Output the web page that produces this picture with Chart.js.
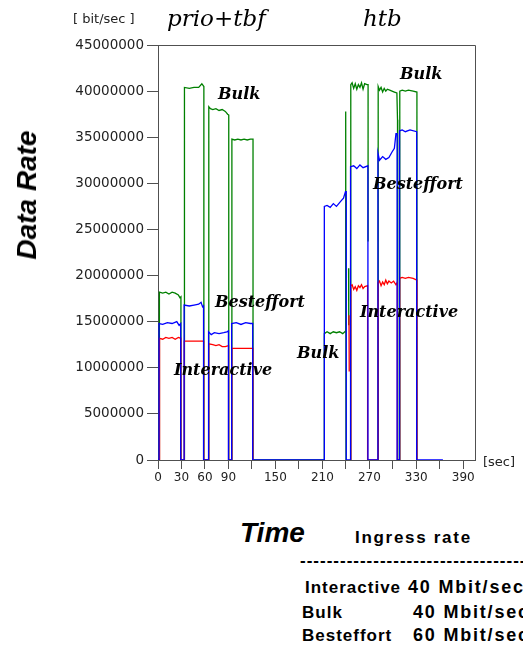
<!DOCTYPE html>
<html>
<head>
<meta charset="utf-8">
<title>prio+tbf vs htb</title>
<script src="https://cdn.jsdelivr.net/npm/chart.js@4.4.1/dist/chart.umd.min.js"></script>
<style>
    body { margin: 0; background: #fff; overflow: hidden; }
    #wrap { position: relative; width: 523px; height: 651px; overflow: hidden; }
    #rateChart { position: absolute; left: 0; top: 0; }
    .lbl { position: absolute; white-space: nowrap; line-height: 1; color: #000; }
    .note { font-family: "DejaVu Serif", serif; font-style: italic; font-weight: bold; font-size: 16px; }
    .head { font-family: "DejaVu Serif", serif; font-style: italic; font-size: 23px; }
    .unit { font-family: "DejaVu Sans", sans-serif; font-size: 13px; color: #222; }
    .big { font-family: "Liberation Sans", Arial, sans-serif; font-style: italic; font-weight: bold; font-size: 28px; }
    .info { font-family: "Liberation Sans", Arial, sans-serif; font-weight: bold; font-size: 17px; letter-spacing: 1px; }
    .wide { letter-spacing: 1.7px; }
    .rate { font-family: "Liberation Sans", Arial, sans-serif; font-weight: bold; font-size: 18px; letter-spacing: 1.8px; }
</style>
</head>
<body>
<div id="wrap">
    <canvas id="rateChart" width="523" height="500"></canvas>
</div>
<script>
// Time axis (seconds)
const timeTicks = [0, 30, 60, 90, 120, 150, 180, 210, 240, 270, 300, 330, 360, 390];
const timeLabels = [0, 30, 60, 90, 150, 210, 270, 330, 390];

// Besteffort (blue), rates in Mbit/sec
const besteffortTime = [0, 1.3, 1.3, 6, 12, 18, 24, 27, 29, 29,
    33.4, 33.4, 40, 46, 52, 55, 57, 58.2, 58.2,
    64.6, 64.6, 68, 72, 78, 84, 88, 90, 90,
    94.1, 94.1, 100, 106, 112, 118, 121, 121,
    212.5, 212.5, 216, 220, 224, 228, 232, 235, 237, 239.5, 240.5, 240.5,
    246, 246, 250, 254, 258, 262, 268.2, 268.2,
    281, 281, 283, 287, 291, 295, 299, 302, 304, 305.5, 305.5,
    308.6, 308.6, 312, 316, 322, 330.5, 330.5, 364];
const besteffortRate = [0, 0, 14.8, 14.7, 14.9, 14.8, 15.0, 14.6, 14.8, 0,
    0, 16.8, 16.7, 16.8, 16.9, 17.1, 16.6, 16.7, 0,
    0, 13.9, 13.6, 13.8, 13.7, 13.8, 13.9, 14.0, 0,
    0, 14.8, 14.9, 14.7, 14.9, 14.8, 14.8, 0,
    0, 27.5, 27.6, 27.4, 27.8, 27.5, 27.9, 28.2, 28.4, 29.1, 29.1, 0,
    0, 31.8, 31.9, 31.6, 32.0, 31.7, 31.9, 0,
    0, 33.3, 32.5, 32.9, 32.6, 32.8, 33.4, 33.8, 35.4, 35.4, 0,
    0, 35.7, 35.8, 35.6, 35.8, 35.6, 0, 0];

// Interactive (red)
const interactiveTime = [0, 2, 2, 6, 10, 14, 18, 22, 26, 29.2, 29.2,
    33.6, 33.6, 45, 58.4, 58.4,
    64.8, 64.8, 70, 74, 78, 82, 86, 90.2, 90.2,
    94.3, 94.3, 121.2, 121.2,
    244, 244, 244.3, 244.4,
    246.3, 246.3, 248, 250, 252, 254, 256, 258, 260, 262, 264, 267.8, 267.8,
    281.2, 281.2, 283, 285, 287, 289, 291, 293, 295, 298, 301, 304, 305.8, 305.8,
    308.8, 308.8, 312, 316, 320, 326, 330.8, 330.8];
const interactiveRate = [0, 0, 13.2, 13.1, 13.3, 13.2, 13.3, 13.1, 13.3, 13.2, 0,
    0, 12.9, 12.9, 12.9, 0,
    0, 12.6, 12.5, 12.4, 12.5, 12.3, 12.3, 12.4, 0,
    0, 12.1, 12.1, 0,
    null, 15.7, 9.6, null,
    0, 18.9, 19.0, 18.5, 18.8, 18.4, 18.9, 18.7, 19.0, 18.6, 18.8, 18.9, 0,
    0, 19.2, 19.4, 18.9, 19.3, 19.0, 19.5, 19.1, 19.4, 19.2, 19.4, 19.0, 19.3, 0,
    0, 19.7, 19.8, 19.7, 19.8, 19.7, 19.5, 0];

// Bulk (green)
const bulkTime = [0, 1.8, 1.8, 6, 10, 14, 18, 22, 26, 28, 29.3, 29.3,
    33.8, 33.8, 40, 46, 52, 56, 58.6, 58.6,
    64.9, 64.9, 67, 70, 74, 78, 82, 86, 89, 90.4, 90.4,
    94.4, 94.4, 98, 102, 106, 110, 114, 118, 121.4, 121.4,
    212.5, 212.5, 216, 220, 224, 228, 232, 236, 239.8, 239.8, 240.2,
    243.5, 243.5, 243.7, 243.8,
    246.3, 246.3, 248, 250, 252, 254, 256, 258, 260, 262, 264, 267, 268.4, 268.4, 268.5,
    281.3, 281.3, 283, 285, 287, 289, 291, 293, 296, 299, 302, 305.2, 306, 306.3,
    308.9, 308.9, 312, 316, 320, 326, 330.8, 330.8];
const bulkRate = [0, 0, 18.2, 18.1, 18.2, 18.0, 18.2, 18.1, 17.9, 17.6, 17.7, 0,
    0, 40.4, 40.3, 40.4, 40.4, 40.8, 40.5, 0,
    0, 38.3, 38.1, 38.0, 38.1, 37.9, 38.0, 37.8, 37.5, 37.4, 0,
    0, 34.8, 34.7, 34.8, 34.7, 34.8, 34.7, 34.8, 34.8, 0,
    0, 13.7, 13.9, 13.7, 13.9, 13.8, 13.9, 13.7, 14.0, 37.8, 0,
    null, 20.8, 14.6, null,
    0, 40.7, 40.9, 40.3, 40.8, 40.2, 40.7, 40.4, 40.9, 40.2, 40.8, 40.7, 40.7, 23.7, null,
    0, 40.5, 40.1, 40.4, 39.9, 40.3, 40.0, 40.2, 40.1, 40.0, 39.9, 39.8, 36.9, 0,
    0, 40.0, 40.1, 40.0, 40.1, 40.0, 39.9, 0];

// In-plot notes: [text, left, baseline]
const notes = [
    ['Bulk', 218, 100], ['Bulk', 400, 80], ['Bulk', 297, 359],
    ['Besteffort', 215, 308], ['Besteffort', 373, 190],
    ['Interactive', 174, 376], ['Interactive', 360, 318]
];

function toPoints(times, rates) {
    return times.map((t, i) => ({ x: t, y: rates[i] === null ? null : rates[i] * 1000000 }));
}

function addLabel(text, cls, left, baseline, size) {
    const el = document.createElement('div');
    el.className = 'lbl ' + cls;
    el.textContent = text;
    el.style.left = left + 'px';
    el.style.top = (baseline - size * 0.85) + 'px';
    document.getElementById('wrap').appendChild(el);
    return el;
}

// frame on top and right of plot area
const frameBox = {
    id: 'frameBox',
    afterDraw(chart) {
        const a = chart.chartArea;
        const ctx = chart.ctx;
        ctx.save();
        ctx.strokeStyle = '#505050';
        ctx.lineWidth = 1;
        ctx.beginPath();
        ctx.moveTo(Math.round(a.left) + 0.5, Math.round(a.top) + 0.5);
        ctx.lineTo(Math.round(a.right) + 0.5, Math.round(a.top) + 0.5);
        ctx.lineTo(Math.round(a.right) + 0.5, Math.round(a.bottom) + 0.5);
        ctx.stroke();
        ctx.restore();
    }
};

const lineStyle = { borderWidth: 1.3, pointRadius: 0, tension: 0, fill: false, spanGaps: false };

new Chart(document.getElementById('rateChart'), {
    type: 'line',
    data: {
        datasets: [
            { label: 'Besteffort', data: toPoints(besteffortTime, besteffortRate), borderColor: '#0000ff', ...lineStyle },
            { label: 'Interactive', data: toPoints(interactiveTime, interactiveRate), borderColor: '#ff0000', ...lineStyle },
            { label: 'Bulk', data: toPoints(bulkTime, bulkRate), borderColor: '#008000', ...lineStyle }
        ]
    },
    options: {
        responsive: false,
        animation: false,
        devicePixelRatio: 1,
        layout: { padding: { top: 45, right: 48, bottom: 0, left: 0 } },
        plugins: { legend: { display: false }, tooltip: { enabled: false } },
        scales: {
            x: {
                type: 'linear',
                min: 0,
                max: 405,
                afterBuildTicks: s => { s.ticks = timeTicks.map(v => ({ value: v })); },
                afterFit: s => { s.height = 40; },
                grid: { drawOnChartArea: false, tickLength: 9, color: '#505050' },
                border: { color: '#505050' },
                ticks: {
                    autoSkip: false, maxRotation: 0, padding: 2, color: '#222',
                    font: { family: 'DejaVu Sans', size: 12 },
                    callback: v => timeLabels.includes(v) ? String(v) : ''
                }
            },
            y: {
                min: 0,
                max: 45000000,
                afterFit: s => { s.width = 158; },
                grid: { drawOnChartArea: false, tickLength: 11, color: '#505050' },
                border: { color: '#505050' },
                ticks: {
                    stepSize: 5000000, padding: 3, color: '#222',
                    font: { family: 'DejaVu Sans', size: 13.5 },
                    callback: v => String(v)
                }
            }
        }
    },
    plugins: [frameBox]
});

// texts around the chart
addLabel('prio+tbf', 'head', 167, 27, 23);
addLabel('htb', 'head', 363, 27, 23);
addLabel('[ bit/sec ]', 'unit', 73, 23, 13);
addLabel('[sec]', 'unit', 483, 466, 13);
notes.forEach(n => addLabel(n[0], 'note', n[1], n[2], 16));

const yTitle = addLabel('Data Rate', 'big', 27, 0, 28);
yTitle.style.top = '195px';
yTitle.style.transform = 'translate(-50%, -50%) rotate(-90deg)';

addLabel('Time', 'big', 240, 543, 28);
addLabel('Ingress rate', 'info wide', 355, 543, 17);
addLabel('----------------------------------------', 'info', 300, 566, 17);
addLabel('Interactive', 'info', 305, 593, 17);
addLabel('40 Mbit/sec', 'rate', 408, 593, 18);
addLabel('Bulk', 'info', 302, 618, 17);
addLabel('40 Mbit/sec', 'rate', 413, 618, 18);
addLabel('Besteffort', 'info', 302, 641, 17);
addLabel('60 Mbit/sec', 'rate', 413, 641, 18);
</script>
</body>
</html>
